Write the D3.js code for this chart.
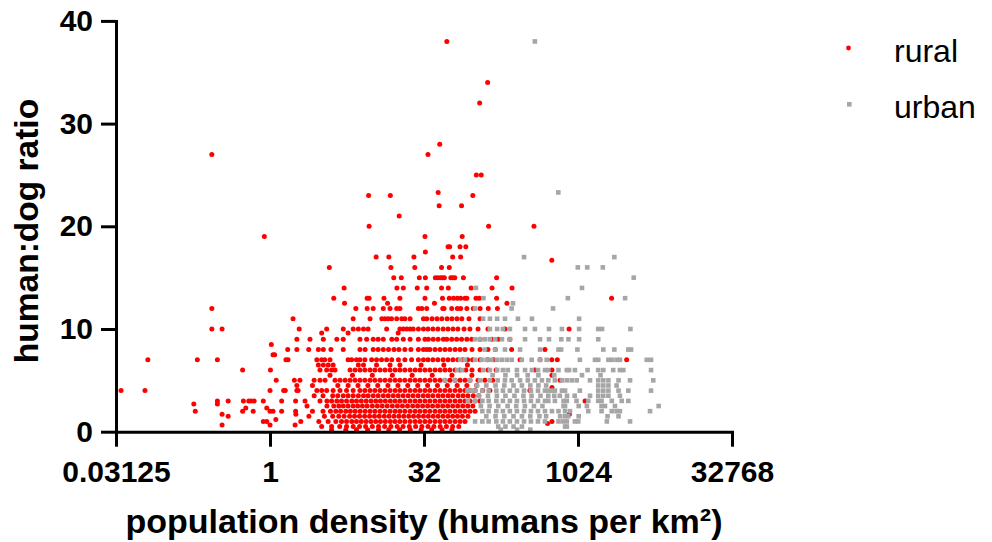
<!DOCTYPE html>
<html><head><meta charset="utf-8">
<script src="https://cdn.jsdelivr.net/npm/d3@7"></script>
<style>body{margin:0;background:#fff}svg{display:block}</style>
</head><body><svg id="chart" width="992" height="542"></svg>
<script>
const xTicks = [0.03125, 1, 32, 1024, 32768];
const yTicks = [0, 10, 20, 30, 40];
const seriesNames = ["rural", "urban"];
const axisTitles = ["population density (humans per km²)", "human:dog ratio"];

// [human:dog ratio, [population densities ...]]
const ruralRows = [
  [0.2, [4.0, 5.5, 7.0, 9.0, 11.5, 14.5, 18.5, 23.5, 30, 38, 48, 60]],
  [0.5, [3.2, 4.0, 4.8, 5.6, 6.5, 7.5, 8.6, 10, 11.5, 13.2, 15.2, 17.5, 20, 23, 26.5, 30.5, 35, 40, 46, 53, 61, 70]],
  [0.66, [0.34, 1.0, 1.76]],
  [0.8, [516]],
  [1, [0.86, 0.93, 2.0, 3.0, 3.7, 4.4, 5.0, 5.6, 6.3, 7.0, 7.8, 8.7, 9.7, 10.8, 12, 13.4, 15, 16.7, 18.6, 20.8, 23.4, 26.2, 29.2, 32.7, 36.5, 41, 45.9, 51.3, 57.3, 64.4, 72, 80.5, 570]],
  [1.2, [1.14]],
  [1.5, [0.39, 2.4, 3.4, 4.1, 4.7, 5.3, 6.0, 6.7, 7.5, 8.4, 9.4, 10.5, 11.7, 13.1, 14.6, 16.3, 18.2, 20.3, 22.7, 25.3, 28.3, 31.6, 35.3, 39.4, 44, 49.1, 54.8, 61, 68, 76, 86]],
  [1.7, [0.34, 1.79, 843]],
  [2, [0.186, 0.54, 0.685, 1.0, 1.07, 1.30, 1.78, 2.6, 3.3, 3.9, 4.4, 4.9, 5.5, 6.1, 6.8, 7.6, 8.5, 9.5, 10.6, 11.9, 13.3, 14.9, 16.7, 18.6, 20.8, 23.4, 26.2, 29.2, 32.7, 36.5, 41, 45.9, 51.3, 57.3, 64.4, 72, 80.5, 90, 101]],
  [2.3, [0.58, 0.93]],
  [2.5, [2.3, 3.6, 4.2, 4.7, 5.2, 5.8, 6.5, 7.2, 8.0, 8.9, 10, 11.2, 12.5, 14, 15.7, 17.6, 19.7, 22.1, 24.8, 27.7, 31, 34.7, 38.8, 43.5, 48.7, 54.5, 61, 68.3, 76.5, 85.7, 96]],
  [2.7, [0.18, 0.306]],
  [3, [0.306, 0.39, 0.55, 0.62, 0.655, 0.70, 0.86, 1.30, 1.78, 2.2, 3.08, 3.6, 4.0, 4.5, 5.0, 5.6, 6.3, 7.0, 7.8, 8.7, 9.7, 10.8, 12, 13.4, 15, 16.7, 18.6, 20.8, 23.4, 26.2, 29.2, 32.7, 36.5, 41, 45.9, 51.3, 57.3, 64.4, 72, 80.5, 90, 101, 113, 1200]],
  [3.5, [2.7, 3.3, 4.1, 4.6, 5.2, 5.8, 6.5, 7.3, 8.2, 9.1, 10.2, 11.4, 12.8, 14.3, 16, 17.9, 20, 22.4, 25, 28, 31.4, 35, 39, 44, 49, 55, 61, 69, 77, 86, 97, 110]],
  [4, [0.035, 0.060, 1.0, 1.36, 1.41, 1.83, 1.88, 2.87, 3.2, 3.58, 4.14, 4.83, 5.6, 6.5, 7.57, 8.46, 9.5, 10.6, 11.9, 13.3, 14.9, 16.7, 18.6, 20.8, 23.4, 26.2, 29.2, 32.7, 36.5, 41, 45.9, 51.3, 57.3, 64.4, 72, 80.5, 90, 101, 120, 141, 347]],
  [4.3, [570]],
  [4.5, [1.83, 2.6, 4.6, 5.8, 7.25, 9.05, 11.3, 14.2, 17.8, 22.2, 27.8, 34.7, 43.3, 54, 67.5, 84, 105]],
  [5, [1.15, 1.73, 1.96, 2.7, 3.08, 3.45, 4.32, 4.83, 5.42, 6.06, 6.78, 7.57, 8.46, 9.5, 10.6, 11.9, 13.3, 14.9, 16.7, 18.6, 20.8, 23.4, 26.2, 29.2, 32.7, 36.5, 41, 45.9, 51.3, 57.3, 64.4, 72, 80.5, 90, 108, 126, 150, 685]],
  [5.5, [3.86, 6.4, 10, 15.7, 24.5, 38.5, 60, 94, 570]],
  [6, [0.54, 1.01, 3.08, 3.58, 4.0, 4.32, 6.06, 6.78, 7.57, 8.46, 9.5, 10.6, 11.9, 13.3, 14.9, 16.7, 18.6, 20.8, 23.4, 26.2, 29.2, 32.7, 36.5, 41, 45.9, 51.3, 57.3, 64.4, 72, 82, 94.3, 113, 135, 162, 388, 570]],
  [6.5, [2.97, 3.32, 3.71, 4.14, 7.3, 8.2, 11, 14.9, 18.6, 30, 50, 85]],
  [7, [0.064, 0.195, 0.306, 1.43, 1.5, 2.87, 3.2, 3.43, 3.86, 5.8, 6.27, 7.0, 7.57, 8.46, 9.85, 11.0, 12.3, 13.8, 15.5, 18, 20.8, 24.2, 28.2, 31.6, 35, 39.1, 43.7, 49.2, 54.9, 61.4, 68.6, 76.6, 85.6, 95.6, 113, 134, 153, 278, 436, 568, 643, 3060]],
  [7.5, [1.07, 1.11]],
  [8, [1.49, 1.83, 2.39, 2.97, 3.32, 3.94, 5.2, 7.57, 8.5, 10.2, 11.4, 12.8, 14.4, 16.3, 18.2, 20.8, 23.8, 28.2, 31.6, 34, 36.5, 41, 45.9, 51.3, 57.3, 64.4, 72, 80.5, 94.3, 113, 135, 159, 230, 487]],
  [8.5, [1.03]],
  [9, [1.83, 2.46, 3.32, 4.5, 5.2, 7.57, 8.8, 10.2, 11.4, 12.8, 15.5, 17.3, 20.1, 23.4, 28.2, 32.7, 35.3, 39.4, 44, 49.5, 53.4, 59.7, 66.7, 74.5, 83.9, 93.7, 113, 147, 170, 221]],
  [9.6, [3.2, 5.8, 17.9]],
  [10, [0.27, 0.34, 1.93, 3.58, 5.2, 6.5, 7.3, 8.2, 9.1, 13.8, 18.6, 20.1, 21.7, 23.4, 25.1, 28.2, 31.6, 35, 39.1, 43.7, 49.2, 54.9, 61.4, 68.6, 78.8, 89.9, 108, 135, 198, 838]],
  [11, [1.68, 6.5, 9.5, 12.4, 13.3, 14.3, 15.4, 17.3, 19.4, 20.8, 23.4, 31.6, 34, 38.3, 42.8, 47.8, 53.8, 60, 67.2, 75, 88, 113]],
  [12, [0.27, 6.9, 8.9, 10.2, 12.8, 14.9, 17.3, 18.6, 28.2, 30.5, 34, 48.8, 50.2, 59.7, 67.7, 73, 83.9, 97, 113, 136, 167]],
  [12.5, [5.35, 14.1, 40.5, 207]],
  [13, [4.2, 8.9, 9.3, 13, 18.6, 32.7, 48.5, 56.5, 62, 67.6, 73, 80.4, 83.9, 103, 111, 164, 2180]],
  [14, [5.3, 17.4, 20.1, 27.5, 34, 47.5, 55.3, 92.4, 148, 232]],
  [15, [16.2, 19.2, 28.8, 33, 41.3, 43.7, 46.2, 48.5, 50.6, 58.5, 61, 64, 77.7, 164]],
  [16, [3.8, 15.2, 26, 47.5, 56.5]],
  [16.7, [568]],
  [17, [10.9, 14.5, 25.5, 61, 73]],
  [17.5, [33]],
  [18, [55, 57, 72, 82]],
  [19, [0.88, 32.7, 75.6]],
  [20, [9.3, 137, 380]],
  [21, [18.3]],
  [22, [45, 74.5]],
  [23, [9.2, 15, 96]],
  [23.3, [44]],
  [25, [104, 116]],
  [27, [0.27, 35]],
  [28, [45.6]],
  [32, [112]],
  [34, [134]],
  [38, [53.5]]
];

const urbanRows = [
  [0.2, [180, 260, 350]],
  [0.5, [170, 200, 240, 290, 765, 796]],
  [1, [101, 119, 137, 163, 189, 221, 259, 304, 355, 416, 487, 660, 730, 796, 955, 1030, 1960, 3303]],
  [1.5, [130, 160, 195, 240, 290, 350, 430, 500, 685, 765, 820, 1040, 1990, 2550]],
  [2, [119, 137, 163, 189, 221, 259, 304, 355, 416, 487, 570, 660, 765, 855, 1290, 1740, 2190, 2440, 2630, 5180]],
  [2.5, [115, 140, 170, 210, 255, 310, 380, 460, 740, 765, 1040, 1250, 1740, 1880, 2353, 6290]],
  [3, [86, 101, 119, 137, 163, 189, 221, 259, 304, 355, 416, 487, 525, 609, 740, 796, 990, 1290, 1614, 1740, 2190, 2740, 3180]],
  [3.5, [110, 135, 165, 200, 245, 300, 360, 440, 525, 600, 680, 800, 950, 1342, 1614, 1810, 2030, 2630]],
  [4, [85, 92, 101, 119, 137, 163, 189, 221, 259, 304, 355, 416, 487, 525, 570, 609, 713, 765, 1068, 1614, 1810, 2030, 2550, 3180, 5300]],
  [4.5, [105, 130, 160, 195, 240, 290, 350, 420, 500, 1614, 1810, 2030, 2440]],
  [5, [51.3, 64.4, 90, 113, 141, 168, 198, 230, 278, 331, 388, 455, 525, 609, 713, 796, 890, 995, 1342, 1614, 1810, 2030, 2550, 3303, 5570]],
  [5.5, [150, 200, 260, 330, 420, 600, 1120, 1700]],
  [6, [67.5, 75.5, 121, 141, 166, 189, 211, 259, 311, 363, 416, 487, 525, 660, 796, 837, 955, 1270, 1614, 1810, 2260, 2630, 2840, 5300]],
  [7, [72, 80.5, 101, 117, 131, 146, 165, 184, 206, 230, 289, 361, 436, 506, 1068, 1500, 1614, 2030, 2190, 2440, 2630, 4810, 5300]],
  [8, [126, 159, 198, 278, 436, 660, 700, 1010, 1810, 2320, 3180, 3380]],
  [9, [101, 113, 126, 141, 159, 185, 221, 311, 436, 533, 703, 826, 1050, 1614]],
  [10, [141, 166, 189, 221, 311, 388, 533, 713, 1050, 1614, 1760, 3330]],
  [11, [121, 141, 166, 198, 265, 363, 1050]],
  [12, [101, 230, 584]],
  [12.5, [237]],
  [13, [122, 815, 2956]],
  [14, [103, 1120]],
  [15, [3590]],
  [16, [1020, 1260, 1790]],
  [17, [304, 2320]],
  [23.3, [657]],
  [38, [388]]
];

const colors = {rural: "#ff0000", urban: "#a6a6a6"};
const FONT = "'Liberation Sans', Arial, Helvetica, sans-serif";

const svg = d3.select("#chart");
svg.append("rect").attr("width", 992).attr("height", 542).attr("fill", "#fff");

const x = d3.scaleLog().base(2).domain([0.03125, 32768]).range([116, 732]);
const y = d3.scaleLinear().domain([0, 40]).range([431.7, 20.9]);

const toPoints = rows => rows.flatMap(([r, ds]) => ds.map(d => ({d, r})));
const ruralPts = toPoints(ruralRows);
const urbanPts = toPoints(urbanRows);

// points
svg.append("g").selectAll("circle").data(ruralPts).join("circle")
  .attr("cx", p => x(p.d)).attr("cy", p => y(p.r)).attr("r", 2.5)
  .attr("fill", colors.rural);
const sq = 4.6;
svg.append("g").selectAll("rect").data(urbanPts).join("rect")
  .attr("x", p => x(p.d) - sq / 2).attr("y", p => y(p.r) - sq / 2)
  .attr("width", sq).attr("height", sq).attr("fill", colors.urban);

// axes
const xAxis = svg.append("g").attr("transform", `translate(0,${y(0)})`)
  .call(d3.axisBottom(x).tickValues(xTicks).tickSize(15).tickSizeOuter(0).tickPadding(14)
    .tickFormat(d => String(d)));
const yAxis = svg.append("g").attr("transform", `translate(${x(0.03125)},0)`)
  .call(d3.axisLeft(y).tickValues(yTicks).tickSize(15).tickSizeOuter(0).tickPadding(8)
    .tickFormat(d3.format("d")));
[xAxis, yAxis].forEach(g => {
  g.select(".domain").attr("stroke", "#000").attr("stroke-width", 3).attr("stroke-linecap", "square");
  g.selectAll(".tick line").attr("stroke", "#000").attr("stroke-width", 3);
  g.selectAll(".tick text").attr("fill", "#000").style("font-family", FONT)
    .style("font-size", "30px").style("font-weight", "bold");
});

// axis titles
svg.append("text").attr("x", 424).attr("y", 533).attr("text-anchor", "middle")
  .style("font-family", FONT).style("font-size", "34px").style("font-weight", "bold")
  .text(axisTitles[0]);
svg.append("text").attr("transform", "translate(38,231) rotate(-90)").attr("text-anchor", "middle")
  .style("font-family", FONT).style("font-size", "33.5px").style("font-weight", "bold")
  .text(axisTitles[1]);

// legend
const legend = svg.append("g");
legend.append("circle").attr("cx", 848.5).attr("cy", 48).attr("r", 2.4).attr("fill", colors.rural);
legend.append("rect").attr("x", 849.3 - sq / 2).attr("y", 104.3 - sq / 2).attr("width", sq).attr("height", sq).attr("fill", colors.urban);
legend.selectAll("text").data(seriesNames).join("text")
  .attr("x", 894).attr("y", (d, i) => i === 0 ? 61.5 : 118)
  .style("font-family", FONT).style("font-size", "32px").attr("fill", "#000")
  .text(d => d);
</script>
</body></html>
